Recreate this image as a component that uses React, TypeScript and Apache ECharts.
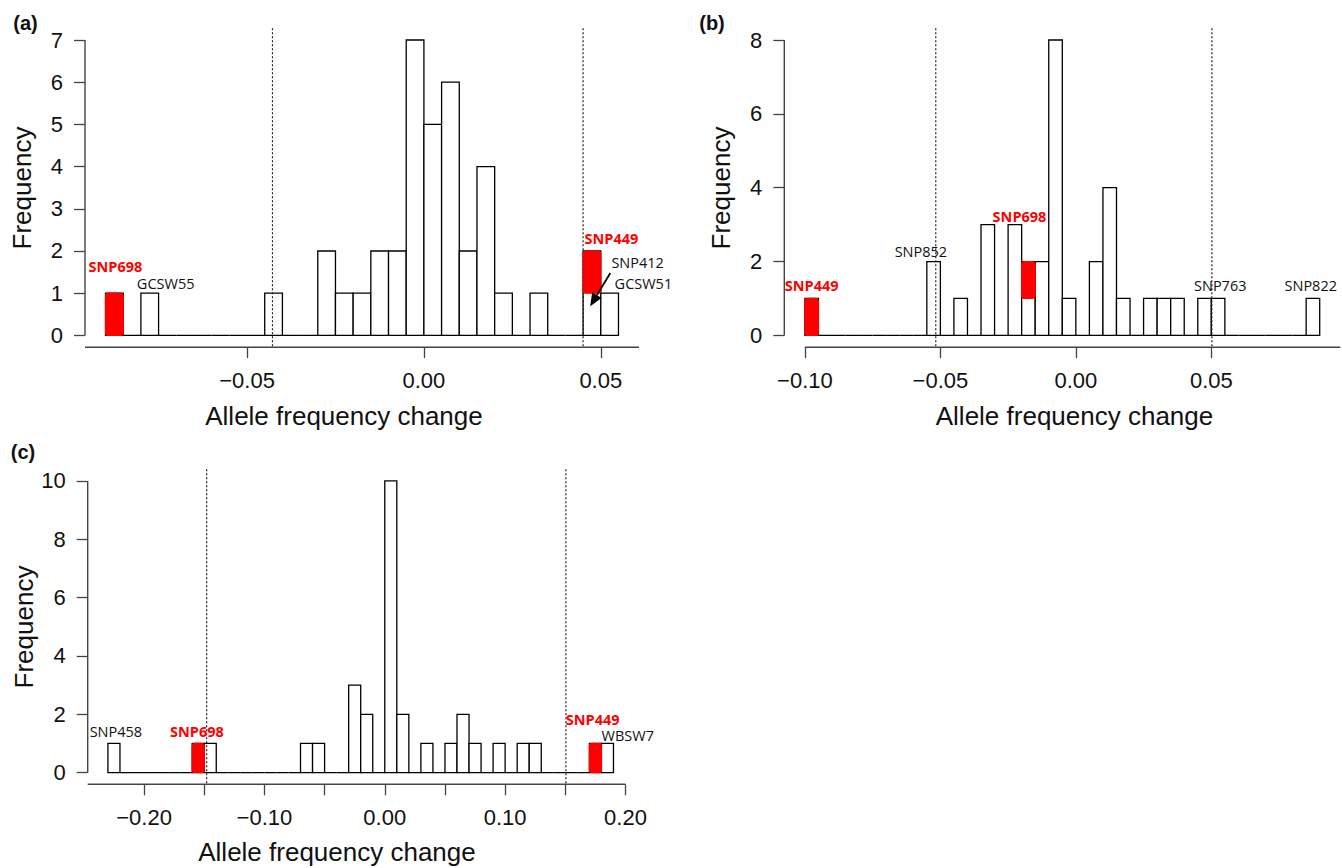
import React, { useEffect, useRef } from "react";
import * as echarts from "echarts";

// ---------- Panel (a) ----------
const binWidthA = 0.005;
const binStartA = -0.09;
const countsA = [1, 0, 1, 0, 0, 0, 0, 0, 0, 1, 0, 0, 2, 1, 1, 2, 2, 7, 5, 6, 2, 4, 1, 0, 1, 0, 0, 2, 1];
const redLeftA = [-0.09, 0.045];
const redLowA = [0, 1];
const redHighA = [1, 2];
const thresholdsA = [-0.0428, 0.045];
const xTicksA = [-0.05, 0, 0.05];
const xLabelValuesA = [-0.05, 0, 0.05];
const xLabelsA = ["\u22120.05", "0.00", "0.05"];
const yTicksA = [0, 1, 2, 3, 4, 5, 6, 7];
const xRangeA = [-0.0958, 0.0608];
const yRangeA = [-0.28, 7.28];
const xAxisSpanA = [-0.0958, 0.0608];
const yAxisSpanA = [0, 7];
const labelTextA = ["SNP698", "GCSW55", "SNP449", "SNP412", "GCSW51"];
const labelXA = [-0.0872, -0.073, 0.053, 0.053, 0.0539];
const labelYA = [1.63, 1.23, 2.3, 1.73, 1.23];
const labelRedA = [true, false, true, false, false];
const labelAlignA = ["center", "center", "center", "left", "left"];
const arrowFromA = [0.0527, 1.48];
const arrowToA = [0.047, 0.69];

// ---------- Panel (b) ----------
const binWidthB = 0.005;
const binStartB = -0.1;
const countsB = [1, 0, 0, 0, 0, 0, 0, 0, 0, 2, 0, 1, 0, 3, 0, 3, 2, 2, 8, 1, 0, 2, 4, 1, 0, 1, 1, 1, 0, 1, 1, 0, 0, 0, 0, 0, 0, 1];
const redLeftB = [-0.1, -0.02];
const redLowB = [0, 1];
const redHighB = [1, 2];
const thresholdsB = [-0.0517, 0.0502];
const xTicksB = [-0.1, -0.05, 0, 0.05];
const xLabelValuesB = [-0.1, -0.05, 0, 0.05];
const xLabelsB = ["\u22120.10", "\u22120.05", "0.00", "0.05"];
const yTicksB = [0, 2, 4, 6, 8];
const xRangeB = [-0.1076, 0.0976];
const yRangeB = [-0.32, 8.32];
const xAxisSpanB = [-0.1, 0.0976];
const yAxisSpanB = [0, 8];
const labelTextB = ["SNP449", "SNP852", "SNP698", "SNP763", "SNP822"];
const labelXB = [-0.0975, -0.0572, -0.0208, 0.0533, 0.0867];
const labelYB = [1.34, 2.28, 3.23, 1.34, 1.34];
const labelRedB = [true, false, true, false, false];
const labelAlignB = ["center", "center", "center", "center", "center"];

// ---------- Panel (c) ----------
const binWidthC = 0.01;
const binStartC = -0.23;
const countsC = [1, 0, 0, 0, 0, 0, 0, 1, 1, 0, 0, 0, 0, 0, 0, 0, 1, 1, 0, 0, 3, 2, 0, 10, 2, 0, 1, 0, 1, 2, 1, 0, 1, 0, 1, 1, 0, 0, 0, 0, 1, 1];
const redLeftC = [-0.16, 0.17];
const redLowC = [0, 0];
const redHighC = [1, 1];
const thresholdsC = [-0.148, 0.1505];
const xTicksC = [-0.2, -0.15, -0.1, -0.05, 0, 0.05, 0.1, 0.15, 0.2];
const xLabelValuesC = [-0.2, -0.1, 0, 0.1, 0.2];
const xLabelsC = ["\u22120.20", "\u22120.10", "0.00", "0.10", "0.20"];
const yTicksC = [0, 2, 4, 6, 8, 10];
const xRangeC = [-0.2468, 0.2068];
const yRangeC = [-0.4, 10.4];
const xAxisSpanC = [-0.2468, 0.2];
const yAxisSpanC = [0, 10];
const labelTextC = ["SNP458", "SNP698", "SNP449", "WBSW7"];
const labelXC = [-0.2234, -0.1561, 0.1727, 0.1801];
const labelYC = [1.4, 1.4, 1.82, 1.28];
const labelRedC = [false, true, true, false];
const labelAlignC = ["center", "center", "center", "left"];

const panelNames = ["(a)", "(b)", "(c)"];
const yTitle = "Frequency";
const xTitle = "Allele frequency change";

const AXIS_COLOR = "#444";
const TICK_FONT = 22;
const TITLE_FONT = 26;
const SNP_FONT = 14.5;

type Panel = {
  binWidth: number;
  binStart: number;
  counts: number[];
  redLeft: number[];
  redLow: number[];
  redHigh: number[];
  thresholds: number[];
  xTicks: number[];
  xLabelValues: number[];
  xLabels: string[];
  yTicks: number[];
  xRange: number[];
  yRange: number[];
  xAxisSpan: number[];
  yAxisSpan: number[];
  labelText: string[];
  labelX: number[];
  labelY: number[];
  labelRed: boolean[];
  labelAlign: string[];
  grid: { left: number; top: number; width: number; height: number };
};

const panels: Panel[] = [
  {
    binWidth: binWidthA, binStart: binStartA, counts: countsA, redLeft: redLeftA, redLow: redLowA, redHigh: redHighA,
    thresholds: thresholdsA, xTicks: xTicksA, xLabelValues: xLabelValuesA, xLabels: xLabelsA, yTicks: yTicksA,
    xRange: xRangeA, yRange: yRangeA, xAxisSpan: xAxisSpanA, yAxisSpan: yAxisSpanA,
    labelText: labelTextA, labelX: labelXA, labelY: labelYA, labelRed: labelRedA, labelAlign: labelAlignA,
    grid: { left: 85, top: 28.2, width: 554, height: 319 },
  },
  {
    binWidth: binWidthB, binStart: binStartB, counts: countsB, redLeft: redLeftB, redLow: redLowB, redHigh: redHighB,
    thresholds: thresholdsB, xTicks: xTicksB, xLabelValues: xLabelValuesB, xLabels: xLabelsB, yTicks: yTicksB,
    xRange: xRangeB, yRange: yRangeB, xAxisSpan: xAxisSpanB, yAxisSpan: yAxisSpanB,
    labelText: labelTextB, labelX: labelXB, labelY: labelYB, labelRed: labelRedB, labelAlign: labelAlignB,
    grid: { left: 784.3, top: 28.2, width: 556, height: 319 },
  },
  {
    binWidth: binWidthC, binStart: binStartC, counts: countsC, redLeft: redLeftC, redLow: redLowC, redHigh: redHighC,
    thresholds: thresholdsC, xTicks: xTicksC, xLabelValues: xLabelValuesC, xLabels: xLabelsC, yTicks: yTicksC,
    xRange: xRangeC, yRange: yRangeC, xAxisSpan: xAxisSpanC, yAxisSpan: yAxisSpanC,
    labelText: labelTextC, labelX: labelXC, labelY: labelYC, labelRed: labelRedC, labelAlign: labelAlignC,
    grid: { left: 87.7, top: 469.3, width: 546, height: 315 },
  },
];

// text placement (layout only)
const panelLabelPos = [[25.5, 22.5], [712, 22.5], [23, 452]];
const yTitlePos = [[21.6, 188], [721, 188], [24.3, 627]];
const xTitlePos = [[344, 416], [1074.5, 416], [337, 852]];

function buildOption() {
  const grids: any[] = [];
  const xAxes: any[] = [];
  const yAxes: any[] = [];
  const series: any[] = [];

  panels.forEach((p, gi) => {
    grids.push({ ...p.grid, containLabel: false });
    xAxes.push({
      type: "value",
      gridIndex: gi,
      min: p.xRange[0],
      max: p.xRange[1],
      axisLine: { show: false, onZero: false },
      splitLine: { show: false },
      axisTick: { show: true, length: 11, lineStyle: { color: AXIS_COLOR, width: 1.3 }, customValues: p.xTicks },
      axisLabel: {
        customValues: p.xLabelValues,
        margin: 22,
        fontSize: TICK_FONT,
        fontFamily: "Liberation Sans",
        color: "#111",
        formatter: (v: number) => {
          const i = p.xLabelValues.findIndex((t) => Math.abs(t - v) < 1e-9);
          return i >= 0 ? p.xLabels[i] : "";
        },
      },
    });
    yAxes.push({
      type: "value",
      gridIndex: gi,
      min: p.yRange[0],
      max: p.yRange[1],
      axisLine: { show: false, onZero: false },
      splitLine: { show: false },
      axisTick: { show: true, length: 11, lineStyle: { color: AXIS_COLOR, width: 1.3 }, customValues: p.yTicks },
      axisLabel: {
        customValues: p.yTicks,
        margin: 22,
        fontSize: TICK_FONT,
        fontFamily: "Liberation Sans",
        color: "#111",
        formatter: (v: number) => String(Math.round(v)),
      },
    });

    // axis lines
    series.push({
      type: "custom",
      xAxisIndex: gi,
      yAxisIndex: gi,
      silent: true,
      z: 1,
      data: [[0, p.xAxisSpan[0], p.xAxisSpan[1]], [1, p.yAxisSpan[0], p.yAxisSpan[1]]],
      renderItem: (params: any, api: any) => {
        const cs = params.coordSys;
        const kind = api.value(0);
        const a = api.value(1);
        const b = api.value(2);
        if (kind === 0) {
          const x0 = api.coord([a, 0])[0];
          const x1 = api.coord([b, 0])[0];
          const y = cs.y + cs.height;
          return { type: "line", shape: { x1: x0, y1: y, x2: x1, y2: y }, style: { stroke: AXIS_COLOR, lineWidth: 1.4 } };
        }
        const y0 = api.coord([p.xRange[0], a])[1];
        const y1 = api.coord([p.xRange[0], b])[1];
        const x = cs.x;
        return { type: "line", shape: { x1: x, y1: y0, x2: x, y2: y1 }, style: { stroke: AXIS_COLOR, lineWidth: 1.4 } };
      },
    });

    // threshold dotted lines
    series.push({
      type: "custom",
      xAxisIndex: gi,
      yAxisIndex: gi,
      silent: true,
      z: 3,
      data: p.thresholds.map((t) => [t]),
      renderItem: (params: any, api: any) => {
        const cs = params.coordSys;
        const x = api.coord([api.value(0), 0])[0];
        return {
          type: "line",
          shape: { x1: x, y1: cs.y, x2: x, y2: cs.y + cs.height },
          style: { stroke: "#222", lineWidth: 1.2, lineDash: [2, 2] },
        };
      },
    });

    // histogram bars
    series.push({
      type: "custom",
      xAxisIndex: gi,
      yAxisIndex: gi,
      silent: true,
      z: 2,
      data: p.counts.map((c, k) => [p.binStart + k * p.binWidth, p.binStart + (k + 1) * p.binWidth, c]),
      encode: { x: [0, 1], y: 2 },
      renderItem: (params: any, api: any) => {
        const p0 = api.coord([api.value(0), 0]);
        const p1 = api.coord([api.value(1), api.value(2)]);
        return {
          type: "rect",
          shape: { x: p0[0], y: p1[1], width: p1[0] - p0[0], height: p0[1] - p1[1] },
          style: { fill: "#fff", stroke: "#000", lineWidth: 1.3 },
        };
      },
    });

    // red highlighted SNPs
    series.push({
      type: "custom",
      xAxisIndex: gi,
      yAxisIndex: gi,
      silent: true,
      z: 4,
      data: p.redLeft.map((l, k) => [l, l + p.binWidth, p.redLow[k], p.redHigh[k]]),
      encode: { x: [0, 1], y: [2, 3] },
      renderItem: (params: any, api: any) => {
        const p0 = api.coord([api.value(0), api.value(2)]);
        const p1 = api.coord([api.value(1), api.value(3)]);
        return {
          type: "rect",
          shape: { x: p0[0], y: p1[1], width: p1[0] - p0[0], height: p0[1] - p1[1], r: 3 },
          style: { fill: "#ff0000", stroke: "#ff0000", lineWidth: 1.2 },
        };
      },
    });

    // SNP text labels
    series.push({
      type: "custom",
      xAxisIndex: gi,
      yAxisIndex: gi,
      silent: true,
      z: 6,
      data: p.labelX.map((x, k) => [x, p.labelY[k]]),
      encode: { x: 0, y: 1 },
      renderItem: (params: any, api: any) => {
        const k = params.dataIndex;
        const pt = api.coord([api.value(0), api.value(1)]);
        const red = p.labelRed[k];
        return {
          type: "text",
          x: pt[0],
          y: pt[1],
          style: {
            text: p.labelText[k],
            fill: red ? "#ff0000" : "#111",
            fontSize: SNP_FONT,
            fontFamily: "Open Sans",
            fontWeight: red ? "bold" : "normal",
            align: p.labelAlign[k],
            verticalAlign: "middle",
          },
        };
      },
    });
  });

  // arrow in panel (a)
  series.push({
    type: "custom",
    xAxisIndex: 0,
    yAxisIndex: 0,
    silent: true,
    z: 7,
    data: [[arrowFromA[0], arrowFromA[1], arrowToA[0], arrowToA[1]]],
    renderItem: (params: any, api: any) => {
      const s = api.coord([api.value(0), api.value(1)]);
      const e = api.coord([api.value(2), api.value(3)]);
      const dx = e[0] - s[0];
      const dy = e[1] - s[1];
      const len = Math.sqrt(dx * dx + dy * dy);
      const ux = dx / len;
      const uy = dy / len;
      const hl = 13;
      const hw = 5.5;
      const bx = e[0] - ux * hl;
      const by = e[1] - uy * hl;
      return {
        type: "group",
        children: [
          { type: "line", shape: { x1: s[0], y1: s[1], x2: bx, y2: by }, style: { stroke: "#000", lineWidth: 1.8 } },
          {
            type: "polygon",
            shape: { points: [[e[0], e[1]], [bx - uy * hw, by + ux * hw], [bx + uy * hw, by - ux * hw]] },
            style: { fill: "#000" },
          },
        ],
      };
    },
  });

  const graphics: any[] = [];
  panelNames.forEach((n, i) => {
    graphics.push({
      type: "text",
      x: panelLabelPos[i][0],
      y: panelLabelPos[i][1],
      style: { text: n, fontSize: 20, fontWeight: "bold", fontFamily: "Liberation Sans", fill: "#111", align: "center", verticalAlign: "middle" },
    });
    graphics.push({
      type: "text",
      x: yTitlePos[i][0],
      y: yTitlePos[i][1],
      rotation: Math.PI / 2,
      style: { text: yTitle, fontSize: TITLE_FONT, fontFamily: "Liberation Sans", fill: "#111", align: "center", verticalAlign: "middle" },
    });
    graphics.push({
      type: "text",
      x: xTitlePos[i][0],
      y: xTitlePos[i][1],
      style: { text: xTitle, fontSize: TITLE_FONT, fontFamily: "Liberation Sans", fill: "#111", align: "center", verticalAlign: "middle" },
    });
  });

  return {
    animation: false,
    backgroundColor: "#fff",
    grid: grids,
    xAxis: xAxes,
    yAxis: yAxes,
    series,
    graphic: graphics,
  };
}

export default function App() {
  const ref = useRef<HTMLDivElement>(null);
  useEffect(() => {
    if (!ref.current) return;
    const chart = echarts.init(ref.current, undefined, { renderer: "svg" });
    chart.setOption(buildOption());
    return () => chart.dispose();
  }, []);
  return <div ref={ref} style={{ position: "absolute", left: 0, top: 0, width: 1342, height: 868 }} />;
}
